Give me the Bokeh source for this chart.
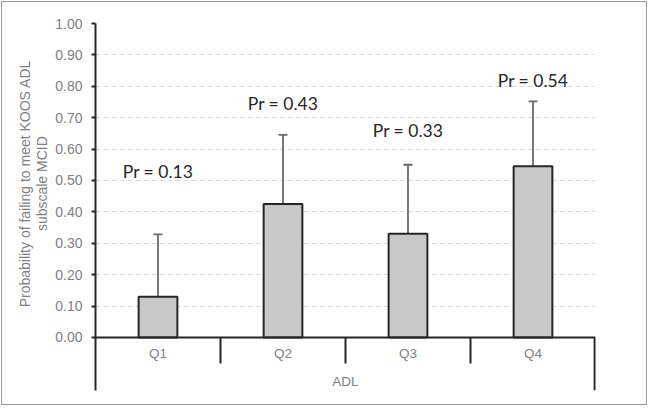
from bokeh.plotting import figure
from bokeh.models import (FactorRange, Range1d, FixedTicker, Whisker, ColumnDataSource,
                          Span, TeeHead, NumeralTickFormatter)
from bokeh.transform import dodge
from bokeh.core.properties import value
from bokeh.embed import file_html
from bokeh.resources import INLINE

# ---- data ----
categories = ["Q1", "Q2", "Q3", "Q4"]
group_label = "ADL"
probabilities = [0.13, 0.425, 0.33, 0.545]
ci_lower = [0.042, 0.232, 0.163, 0.32]
ci_upper = [0.328, 0.645, 0.55, 0.752]
bar_labels = ["Pr = 0.13", "Pr = 0.43", "Pr = 0.33", "Pr = 0.54"]
label_y = [0.53, 0.745, 0.66, 0.82]
y_ticks = [0.0, 0.1, 0.2, 0.3, 0.4, 0.5, 0.6, 0.7, 0.8, 0.9, 1.0]
y_title_lines = ["Probability of failing to meet KOOS ADL", "subscale MCID"]

GRAY = "#808080"
DARK = "#262626"

src = ColumnDataSource(dict(cat=categories, top=probabilities, lo=ci_lower, hi=ci_upper,
                            lab=bar_labels, ly=label_y))

p = figure(width=646, height=404, output_backend="svg", toolbar_location=None,
           x_range=FactorRange(factors=categories, range_padding=0),
           y_range=Range1d(-0.169, 1.0),
           min_border_left=93, min_border_right=53, min_border_top=21, min_border_bottom=16)
p.styles = {"border": "1px solid #9a9a9a", "margin-left": "1px", "margin-top": "1px"}
p.outline_line_color = None
p.background_fill_color = "white"
p.border_fill_color = "white"

# axes
p.xaxis.visible = False
p.xgrid.visible = False
ya = p.yaxis[0]
ya.ticker = FixedTicker(ticks=y_ticks)
ya.formatter = NumeralTickFormatter(format="0.00")
ya.axis_line_color = DARK
ya.axis_line_width = 2
ya.major_tick_line_color = DARK
ya.major_tick_line_width = 2
ya.major_tick_in = 0
ya.major_tick_out = 4
ya.minor_tick_line_color = None
ya.major_label_text_color = GRAY
ya.major_label_text_font = "Liberation Sans"
ya.major_label_text_font_size = "14px"
ya.major_label_standoff = 9
# title is centred on the 0..1 value span (not the whole frame): pad with leading nbsp
pad = "\u00a0" * 12
ya.axis_label = "\n".join(pad + line for line in y_title_lines)
ya.axis_label_text_color = GRAY
ya.axis_label_text_font = "Liberation Sans"
ya.axis_label_text_font_size = "14px"
ya.axis_label_text_font_style = "normal"
ya.axis_label_text_line_height = 1.1
ya.axis_label_standoff = 2

p.ygrid.ticker = FixedTicker(ticks=y_ticks[1:])
p.ygrid.grid_line_color = "#d9d9d9"
p.ygrid.grid_line_dash = "5 3"
p.ygrid.grid_line_width = 1

# bars
p.vbar(x="cat", top="top", bottom=0, width=0.31, source=src,
       fill_color="#c8c8c8", line_color=DARK, line_width=2)

# error bars
w = Whisker(base="cat", lower="lo", upper="hi", source=src,
            line_color="#6a6a6a", line_width=1.8,
            upper_head=TeeHead(size=9, line_color="#6a6a6a", line_width=1.8),
            lower_head=TeeHead(size=9, line_color="#6a6a6a", line_width=1.8))
p.add_layout(w)

# value labels
p.text(x="cat", y="ly", text="lab", source=src, text_align="center", text_baseline="middle",
       text_font=value("Lato"), text_font_size="17.5px", text_color=DARK)

# x axis line and category separators
p.add_layout(Span(location=0, dimension="width", line_color=DARK, line_width=2))
sep = ColumnDataSource(dict(cat=categories[1:]))
p.segment(x0=dodge("cat", -0.5, range=p.x_range), y0=0,
          x1=dodge("cat", -0.5, range=p.x_range), y1=-0.083,
          source=sep, line_color=DARK, line_width=2)
endsrc = ColumnDataSource(dict(cat=[categories[-1]]))
p.segment(x0=dodge("cat", 0.497, range=p.x_range), y0=0,
          x1=dodge("cat", 0.497, range=p.x_range), y1=-0.169,
          source=endsrc, line_color=DARK, line_width=3)

# category labels
p.text(x="cat", y=-0.05, text="cat", source=ColumnDataSource(dict(cat=categories)),
       text_align="center", text_baseline="middle",
       text_font=value("Liberation Sans"), text_font_size="13.5px", text_color=GRAY)
grp = ColumnDataSource(dict(x=[categories[1]], t=[group_label]))
p.text(x=dodge("x", 0.5, range=p.x_range), y=-0.14, text="t", source=grp,
       text_align="center", text_baseline="middle",
       text_font=value("Liberation Sans"), text_font_size="13.5px", text_color=GRAY)

open("out.html", "w").write(file_html(p, INLINE))
